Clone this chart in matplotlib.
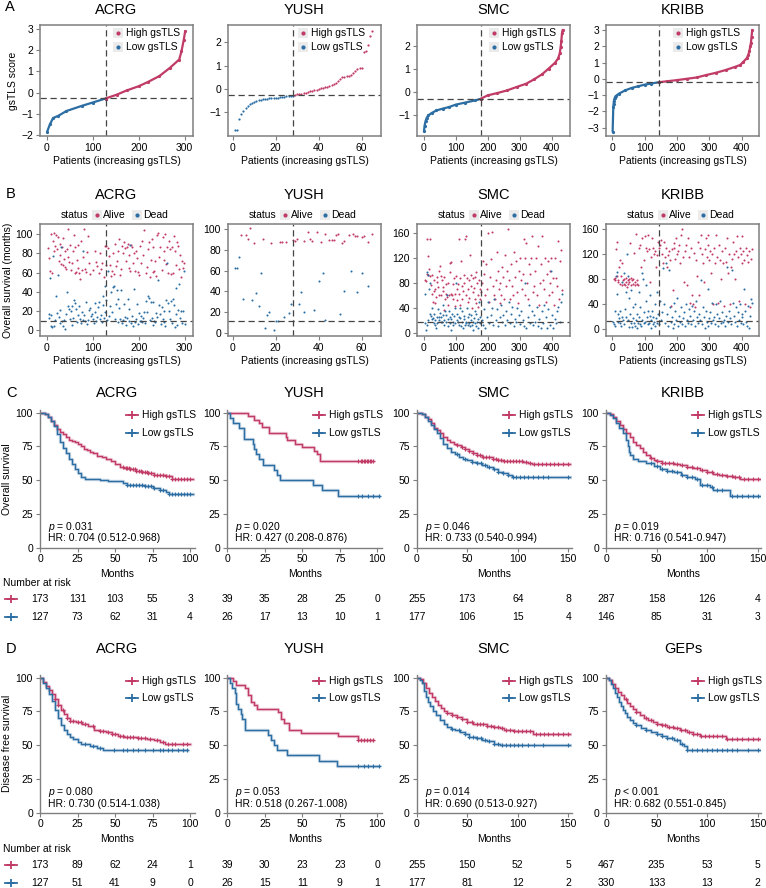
import numpy as np
import matplotlib
matplotlib.use("Agg")
import matplotlib.pyplot as plt
from matplotlib.lines import Line2D
from matplotlib.patches import Rectangle
from matplotlib import transforms

plt.rcParams["font.family"] = ["Liberation Sans", "DejaVu Sans"]
plt.rcParams["mathtext.fontset"] = "custom"
plt.rcParams["mathtext.it"] = "Liberation Sans:italic"
plt.rcParams["mathtext.rm"] = "Liberation Sans"

HIGH = "#C03B66"
LOW = "#2C6EA3"
GRID = "#7f7f7f"

# ---------------- panel A: sorted gsTLS score ----------------
acrg_a_idx = [1, 7, 14, 25, 43, 76, 100, 128, 152, 174, 200, 220, 245, 268, 288, 293, 298, 301]
acrg_a_score = [-1.85, -1.5, -1.2, -1.1, -0.87, -0.63, -0.47, -0.28, -0.1, 0.1, 0.3, 0.5, 0.78,
                1.17, 1.56, 1.95, 2.5, 2.9]
yush_a_idx = list(range(1, 66))
yush_a_score = [-1.78, -1.78, -1.28, -1.08, -0.93, -0.82, -0.72, -0.64, -0.61, -0.57, -0.53, -0.49,
                -0.47, -0.45, -0.43, -0.42, -0.41, -0.40, -0.39, -0.38, -0.37, -0.36, -0.34, -0.33,
                -0.32, -0.31, -0.30, -0.29, -0.26, -0.24, -0.22, -0.20, -0.18, -0.16, -0.14, -0.11,
                -0.09, -0.06, -0.03, 0.00, 0.02, 0.04, 0.07, 0.10, 0.13, 0.17, 0.22, 0.27, 0.35,
                0.42, 0.50, 0.53, 0.55, 0.57, 0.60, 0.70, 0.78, 0.85, 0.90, 0.90, 1.58, 1.62, 1.90,
                2.28, 2.50]
smc_a_idx = [1, 3, 6, 10, 15, 25, 40, 60, 80, 100, 130, 160, 178, 200, 230, 260, 290, 320, 345,
             370, 390, 410, 420, 425, 428, 430, 432, 434]
smc_a_score = [-1.69, -1.44, -1.25, -1.1, -1.0, -0.9, -0.79, -0.71, -0.64, -0.54, -0.45, -0.36,
               -0.29, -0.14, -0.04, 0.07, 0.22, 0.36, 0.55, 0.77, 1.01, 1.26, 1.45, 1.67, 1.96,
               2.22, 2.53, 2.68]
kribb_a_idx = [1, 3, 4, 5, 7, 10, 20, 40, 60, 80, 100, 120, 145, 170, 200, 230, 260, 290, 320,
               350, 380, 395, 405, 415, 420, 423, 426, 428, 430, 432]
kribb_a_score = [-3.25, -1.75, -1.55, -1.35, -1.2, -1.07, -0.92, -0.71, -0.56, -0.46, -0.36, -0.29,
                 -0.21, -0.15, -0.08, 0.0, 0.08, 0.23, 0.37, 0.54, 0.74, 0.85, 1.05, 1.26, 1.47,
                 1.68, 1.99, 2.2, 2.6, 3.0]

cut_idx = [128, 28, 178, 145]
cut_score = [-0.27, -0.27, -0.29, -0.22]
cut_os = [9.7, 11.3, 17.5, 12.7]

# ---------------- panel B: survival time by patient ----------------
acrg_alive = [(3, 85), (5, 75), (7, 62), (9, 100), (11, 59), (13, 93), (15, 101), (17, 82), (19, 88),
              (20, 99), (22, 84), (24, 97), (26, 72), (28, 78), (30, 90), (32, 69), (33, 86), (35, 96),
              (36, 68), (37, 74), (39, 82), (40, 66), (42, 64), (44, 84), (46, 76), (47, 105), (49, 71),
              (50, 89), (52, 63), (55, 70), (57, 82), (59, 99), (61, 87), (62, 60), (64, 61), (66, 73),
              (68, 65), (69, 89), (71, 59), (73, 53), (75, 93), (77, 63), (79, 76), (82, 105), (84, 64),
              (86, 61), (88, 81), (90, 98), (93, 70), (95, 58), (100, 63), (104, 82), (108, 71),
              (110, 67), (113, 60), (116, 80), (118, 64), (121, 70), (125, 55), (127, 88), (128, 68),
              (130, 88), (133, 85), (136, 77), (138, 68), (140, 56), (143, 62), (145, 80), (147, 58),
              (148, 90), (150, 67), (152, 72), (154, 82), (157, 95), (159, 57), (161, 64), (163, 88),
              (165, 80), (167, 92), (170, 85), (172, 72), (174, 87), (176, 90), (178, 78), (180, 65),
              (182, 62), (184, 89), (186, 86), (188, 70), (190, 80), (192, 62), (194, 82), (196, 75),
              (198, 61), (200, 57), (202, 88), (205, 70), (208, 93), (210, 78), (212, 104), (215, 60),
              (218, 66), (220, 84), (222, 92), (224, 55), (226, 73), (228, 95), (230, 61), (232, 87),
              (234, 62), (236, 72), (238, 56), (240, 99), (243, 101), (245, 76), (247, 87), (250, 63),
              (252, 97), (254, 73), (256, 82), (258, 100), (260, 69), (262, 86), (264, 60), (266, 93),
              (268, 84), (270, 58), (272, 87), (274, 59), (276, 98), (278, 82), (280, 68), (283, 92),
              (285, 88), (288, 64), (290, 78), (292, 55), (294, 72), (296, 65), (298, 70)]
acrg_dead = [(4, 13), (6, 17), (8, 54), (9, 5), (10, 16), (12, 3), (14, 77), (16, 4), (18, 11), (20, 36),
             (22, 18), (24, 57), (26, 14), (28, 21), (30, 8), (32, 86), (34, 10), (36, 5), (38, 11),
             (40, 1), (42, 17), (44, 40), (46, 25), (48, 22), (50, 12), (52, 20), (54, 25), (56, 6),
             (58, 13), (60, 32), (62, 28), (64, 22), (66, 9), (68, 16), (70, 25), (72, 12), (74, 8),
             (76, 19), (78, 82), (80, 11), (82, 16), (84, 10), (86, 29), (88, 7), (90, 11), (92, 21),
             (94, 23), (96, 15), (98, 17), (100, 12), (102, 8), (104, 28), (106, 19), (108, 10),
             (110, 14), (112, 24), (114, 29), (116, 12), (118, 16), (120, 9), (122, 36), (123, 26),
             (125, 13), (126, 46), (127, 19), (130, 32), (132, 11), (134, 62), (136, 15), (138, 25),
             (140, 40), (142, 19), (144, 45), (146, 46), (148, 12), (150, 27), (152, 42), (154, 9),
             (156, 33), (158, 23), (160, 12), (162, 42), (164, 8), (166, 11), (168, 27), (170, 14),
             (172, 6), (174, 13), (176, 33), (178, 10), (180, 22), (182, 89), (184, 8), (186, 15),
             (188, 5), (190, 43), (192, 9), (194, 12), (196, 27), (198, 7), (200, 18), (202, 10),
             (204, 10), (206, 15), (208, 9), (210, 13), (212, 19), (214, 8), (216, 30), (218, 19),
             (220, 36), (222, 34), (224, 11), (226, 29), (228, 13), (230, 29), (232, 6), (234, 10),
             (236, 9), (238, 18), (240, 14), (242, 52), (244, 26), (246, 17), (248, 7), (250, 24),
             (252, 12), (254, 20), (256, 9), (258, 4), (260, 31), (262, 70), (264, 28), (266, 20),
             (268, 12), (270, 30), (272, 8), (274, 33), (276, 26), (278, 3), (280, 17), (282, 44),
             (284, 6), (286, 21), (288, 48), (290, 13), (292, 20), (294, 8), (296, 20), (298, 62),
             (300, 7)]
yush_alive = [(4, 95), (6, 95), (7, 91), (8, 101), (10, 87), (14, 91), (18, 87), (22, 88), (23, 88),
              (25, 88), (28, 90), (29, 89), (30, 91), (33, 89), (35, 97), (36, 91), (37, 89), (39, 97),
              (41, 88), (43, 96), (45, 90), (46, 90), (47, 90), (48, 95), (49, 96), (51, 87), (52, 89),
              (54, 95), (56, 96), (57, 94), (58, 94), (60, 93), (61, 94), (63, 88), (65, 96)]
yush_dead = [(1, 63), (2, 63), (3, 73), (5, 33), (9, 32), (11, 38), (12, 26), (13, 58), (15, 5), (16, 17),
             (17, 20), (19, 3), (20, 11), (21, 11), (24, 15), (26, 19), (27, 28), (31, 28), (32, 39),
             (33, 20), (38, 22), (40, 50), (42, 58), (43, 12), (50, 18), (52, 40), (55, 60), (58, 39),
             (60, 58), (63, 45)]
smc_alive = [(5, 85), (7, 83), (9, 150), (11, 95), (13, 93), (15, 124), (17, 103), (19, 151), (21, 92),
             (23, 76), (25, 93), (27, 62), (29, 50), (31, 67), (33, 85), (35, 70), (37, 48), (39, 58),
             (41, 81), (43, 89), (45, 73), (47, 60), (49, 100), (51, 108), (53, 92), (55, 60), (57, 85),
             (59, 73), (61, 67), (63, 37), (65, 90), (67, 55), (69, 62), (71, 78), (73, 58), (75, 45),
             (77, 80), (79, 60), (81, 112), (83, 97), (85, 62), (87, 114), (89, 60), (91, 78), (93, 55),
             (95, 88), (97, 43), (99, 63), (101, 91), (103, 70), (105, 52), (107, 78), (109, 150),
             (111, 63), (113, 45), (115, 88), (117, 115), (119, 75), (121, 55), (123, 67), (125, 93),
             (127, 80), (129, 150), (131, 155), (133, 60), (135, 88), (137, 70), (139, 50), (141, 85),
             (143, 56), (145, 125), (147, 75), (149, 93), (151, 40), (153, 65), (155, 88), (157, 72),
             (159, 55), (161, 90), (163, 47), (165, 98), (167, 80), (169, 60), (171, 42), (173, 85),
             (175, 70), (177, 55), (180, 65), (183, 80), (186, 115), (189, 95), (192, 60), (195, 110),
             (198, 70), (201, 160), (204, 50), (207, 90), (210, 118), (213, 162), (216, 75), (219, 60),
             (222, 55), (225, 85), (228, 130), (231, 100), (234, 70), (237, 48), (240, 80), (243, 60),
             (246, 105), (249, 90), (252, 55), (255, 125), (258, 75), (261, 100), (264, 167), (267, 85),
             (270, 55), (273, 110), (276, 75), (279, 60), (282, 130), (285, 90), (288, 115), (291, 65),
             (294, 48), (297, 100), (300, 120), (303, 85), (306, 70), (309, 95), (312, 150), (315, 60),
             (318, 120), (321, 145), (324, 80), (327, 55), (330, 110), (333, 95), (336, 120), (339, 155),
             (342, 65), (345, 75), (348, 100), (351, 120), (354, 60), (357, 140), (360, 45), (363, 80),
             (366, 110), (369, 155), (372, 85), (375, 70), (378, 120), (381, 50), (384, 95), (387, 115),
             (390, 60), (393, 100), (396, 80), (399, 120), (402, 65), (405, 88), (408, 45), (411, 120),
             (414, 88), (417, 75), (420, 147), (423, 55), (426, 115), (429, 133), (432, 68)]
smc_dead = [(3, 63), (5, 15), (7, 5), (9, 12), (11, 98), (13, 93), (15, 20), (17, 70), (19, 80), (21, 30),
            (23, 27), (25, 40), (27, 22), (29, 23), (31, 16), (33, 30), (35, 13), (37, 20), (39, 8),
            (41, 26), (43, 15), (45, 38), (47, 26), (49, 20), (51, 31), (53, 18), (55, 25), (57, 17),
            (59, 45), (61, 28), (63, 20), (65, 12), (67, 35), (69, 28), (71, 18), (73, 60), (75, 22),
            (77, 10), (79, 35), (81, 25), (83, 15), (85, 22), (87, 5), (89, 30), (91, 18), (93, 12),
            (95, 27), (97, 40), (99, 16), (101, 80), (103, 20), (105, 30), (107, 17), (109, 25),
            (111, 12), (113, 40), (115, 24), (117, 10), (119, 35), (121, 18), (123, 7), (125, 27),
            (127, 22), (129, 12), (131, 15), (133, 18), (135, 40), (137, 25), (139, 13), (141, 30),
            (143, 16), (145, 10), (147, 20), (149, 28), (151, 12), (153, 18), (155, 5), (157, 23),
            (159, 35), (161, 15), (163, 10), (165, 30), (167, 18), (169, 8), (171, 22), (173, 50),
            (175, 15), (177, 25), (181, 20), (185, 12), (189, 38), (193, 8), (197, 25), (201, 50),
            (205, 15), (209, 28), (213, 40), (217, 12), (221, 55), (225, 20), (229, 38), (233, 10),
            (237, 25), (241, 45), (245, 18), (249, 28), (253, 12), (257, 35), (261, 20), (265, 50),
            (269, 15), (273, 30), (277, 42), (281, 10), (285, 22), (289, 18), (293, 40), (297, 28),
            (301, 14), (305, 35), (309, 20), (313, 10), (317, 80), (321, 8), (325, 25), (329, 45),
            (333, 15), (337, 35), (341, 12), (345, 28), (349, 18), (353, 42), (357, 10), (361, 22),
            (365, 8), (369, 35), (373, 15), (377, 45), (381, 25), (385, 8), (389, 38), (393, 12),
            (397, 100), (401, 28), (405, 8), (409, 22), (413, 15), (417, 35), (421, 42), (425, 18),
            (429, 50), (432, 63)]
kribb_alive = [(5, 80), (7, 82), (9, 78), (11, 128), (13, 85), (15, 140), (17, 75), (19, 78), (21, 100),
               (23, 72), (25, 110), (27, 85), (29, 70), (31, 105), (33, 78), (35, 72), (37, 80), (39, 70),
               (41, 75), (43, 82), (45, 68), (47, 78), (49, 72), (51, 80), (53, 75), (55, 137), (57, 70),
               (59, 82), (61, 78), (63, 73), (65, 80), (67, 122), (69, 75), (71, 70), (73, 152), (75, 78),
               (77, 72), (79, 70), (81, 130), (85, 135), (89, 100), (93, 145), (97, 110), (101, 148),
               (105, 130), (108, 125), (111, 150), (114, 128), (117, 75), (120, 115), (123, 145),
               (126, 130), (129, 120), (132, 125), (135, 100), (138, 118), (141, 140), (144, 130),
               (147, 135), (150, 142), (153, 120), (156, 105), (159, 140), (162, 115), (165, 130),
               (168, 100), (171, 118), (174, 125), (177, 110), (180, 38), (183, 128), (186, 62),
               (189, 130), (192, 138), (195, 112), (198, 145), (201, 120), (204, 125), (207, 135),
               (210, 105), (213, 150), (216, 160), (219, 115), (222, 75), (225, 125), (228, 135),
               (231, 70), (234, 145), (237, 115), (240, 42), (243, 130), (246, 55), (249, 40), (252, 122),
               (255, 35), (258, 110), (261, 85), (264, 140), (267, 55), (270, 130), (273, 150),
               (276, 120), (279, 105), (282, 75), (285, 128), (288, 145), (291, 115), (294, 135),
               (297, 150), (300, 110), (303, 125), (306, 90), (309, 120), (312, 40), (315, 130),
               (318, 105), (321, 150), (324, 115), (327, 42), (330, 135), (333, 110), (336, 80),
               (339, 125), (342, 105), (345, 38), (348, 130), (351, 108), (354, 145), (357, 90),
               (360, 120), (363, 40), (366, 100), (369, 112), (372, 140), (375, 120), (378, 80),
               (381, 125), (384, 148), (387, 115), (390, 45), (393, 130), (396, 120), (399, 105),
               (402, 148), (405, 125), (408, 110), (411, 40), (414, 130), (417, 118), (420, 108),
               (423, 125), (426, 35), (429, 112), (432, 128)]
kribb_dead = [(3, 12), (5, 8), (7, 30), (9, 5), (11, 85), (13, 57), (15, 92), (17, 12), (19, 25), (21, 18),
              (23, 30), (25, 10), (27, 5), (29, 75), (31, 20), (33, 15), (35, 90), (37, 8), (39, 32),
              (41, 20), (43, 60), (45, 120), (47, 85), (49, 15), (51, 3), (53, 50), (55, 25), (57, 10),
              (59, 62), (61, 3), (63, 35), (65, 18), (67, 10), (69, 5), (71, 40), (73, 15), (75, 2),
              (77, 25), (79, 10), (81, 60), (83, 20), (85, 8), (87, 35), (89, 5), (91, 90), (93, 15),
              (95, 80), (97, 28), (99, 10), (101, 12), (103, 45), (105, 70), (107, 20), (109, 8),
              (111, 30), (113, 10), (115, 55), (117, 22), (119, 2), (121, 15), (123, 30), (125, 8),
              (127, 20), (129, 12), (131, 40), (133, 5), (135, 18), (137, 60), (139, 10), (141, 25),
              (143, 8), (147, 45), (150, 15), (153, 28), (156, 98), (159, 40), (162, 10), (165, 105),
              (168, 25), (171, 5), (174, 95), (177, 35), (180, 12), (183, 20), (186, 2), (189, 42),
              (192, 8), (195, 30), (198, 15), (201, 50), (204, 5), (207, 22), (210, 12), (213, 35),
              (216, 8), (219, 18), (222, 28), (225, 5), (228, 40), (231, 15), (234, 10), (237, 33),
              (240, 22), (243, 8), (246, 38), (249, 15), (252, 30), (255, 5), (258, 45), (261, 20),
              (264, 10), (267, 25), (270, 15), (273, 78), (276, 8), (279, 35), (282, 20), (285, 2),
              (288, 30), (291, 12), (294, 65), (297, 5), (300, 18), (303, 28), (306, 10), (309, 42),
              (312, 15), (315, 20), (318, 8), (321, 40), (324, 25), (327, 5), (330, 18), (333, 45),
              (336, 10), (339, 28), (342, 12), (345, 15), (348, 5), (351, 22), (354, 100), (357, 12),
              (360, 30), (363, 18), (366, 8), (369, 95), (372, 42), (375, 22), (378, 12), (381, 35),
              (384, 5), (387, 28), (390, 15), (393, 40), (396, 10), (399, 25), (402, 20), (405, 8),
              (408, 65), (411, 30), (414, 12), (417, 5), (420, 38), (423, 2), (426, 22), (429, 48),
              (432, 42)]

# ---------------- panel C: overall survival KM ----------------
c_acrg_high_t = [0, 3, 5, 7, 9, 11, 13, 15, 17, 19, 21, 23, 25, 27, 29, 31, 33, 35, 38, 41, 44, 47, 50,
                 53, 56, 60, 64, 68, 72, 76, 80, 84, 88, 90, 102]
c_acrg_high_s = [100, 99, 97, 94, 91, 88, 86, 84, 82, 80, 79, 78, 77, 75, 73, 72, 71, 70, 68, 67, 66,
                 64, 62, 60, 59, 58, 57, 56, 55, 54, 54, 53, 51, 50.5, 50.5]
c_acrg_high_c = [55, 57, 58, 59, 60, 62, 63, 64, 66, 67, 68, 70, 71, 72, 74, 76, 78, 80, 82, 84, 86,
                 88, 90, 92, 94, 96, 98, 100]
c_acrg_low_t = [0, 3, 5, 7, 9, 11, 13, 15, 17, 19, 21, 23, 25, 27, 30, 35, 40, 45, 50, 55, 58, 62, 70,
                75, 80, 84, 86, 90, 102]
c_acrg_low_s = [100, 99, 97, 94, 90, 84, 78, 74, 70, 66, 62, 58, 55, 52, 51, 50.5, 50, 49, 49, 48, 46,
                46, 45.5, 44, 43, 41, 40, 40, 40]
c_acrg_low_c = [58, 60, 62, 64, 66, 68, 70, 72, 74, 76, 80, 82, 86, 88, 90, 92, 94, 96, 98, 100]

c_yush_high_t = [0, 14, 18, 21, 23, 28, 39, 40, 45, 50, 58, 60, 62, 97]
c_yush_high_s = [100, 97.4, 94.9, 92.3, 89.7, 84.6, 82.1, 79.5, 76.9, 74.4, 71.8, 69.2, 64.1, 64.1]
c_yush_high_c = [87, 89, 90, 91, 92, 93, 94, 95, 96, 97]
c_yush_low_t = [0, 2, 4, 8, 11, 17, 18, 19, 21, 24, 31, 33, 35, 57, 63, 74, 101]
c_yush_low_s = [100, 96.2, 92.3, 88.5, 80.8, 76.9, 73.1, 69.2, 65.4, 61.5, 57.7, 53.8, 50, 46.2, 42.3,
                38.5, 38.5]
c_yush_low_c = [87, 90, 94, 97, 101]

c_smc_high_t = [0, 5, 8, 11, 14, 17, 20, 23, 26, 30, 33, 37, 40, 44, 48, 52, 56, 60, 65, 70, 75, 80, 85,
                90, 95, 100, 105, 110, 114, 152]
c_smc_high_s = [100, 99, 97, 95, 92, 89, 87, 85, 82, 80, 78, 77, 76, 74.5, 73, 71.5, 70, 68.5, 67.5,
                67, 66, 65, 64.5, 64, 64, 64, 63.5, 63, 62, 62]
c_smc_high_c = [40, 45, 48, 52, 56, 60, 63, 66, 69, 72, 75, 78, 80, 83, 86, 89, 92, 95, 98, 101, 104,
                108, 112, 116, 120, 124, 128, 132, 136, 140, 145, 150]
c_smc_low_t = [0, 5, 8, 11, 14, 17, 20, 23, 26, 30, 34, 38, 42, 46, 50, 55, 60, 65, 70, 75, 80, 85, 90,
               94, 152]
c_smc_low_s = [100, 99, 97, 94, 91, 88, 85, 81, 77, 74, 71, 69, 67.5, 66, 65, 63.5, 62.5, 61, 60, 58,
               56, 55, 54, 52, 52]
c_smc_low_c = [40, 48, 55, 60, 64, 68, 72, 76, 80, 85, 90, 95, 98, 102, 106, 110, 115, 120, 125, 130, 150]

c_kribb_high_t = [0, 4, 7, 10, 14, 17, 20, 24, 27, 30, 34, 37, 40, 44, 47, 50, 55, 60, 67, 73, 80, 86,
                  93, 100, 106, 112, 119, 126, 133, 152]
c_kribb_high_s = [100, 99, 97, 94, 91, 88, 85, 82, 78.5, 76, 73.5, 71, 68.5, 66.5, 65, 64, 63, 62.5,
                  62, 61, 60, 59, 57.5, 56, 54.5, 54, 53, 52.5, 51, 51]
c_kribb_high_c = [45, 50, 55, 58, 62, 66, 70, 75, 80, 85, 90, 95, 100, 105, 110, 115, 120, 125, 128,
                  132, 136, 140, 145, 150]
c_kribb_low_t = [0, 4, 7, 10, 13, 17, 20, 22, 23, 24, 27, 32, 40, 47, 53, 60, 67, 74, 80, 88, 93, 103,
                 106, 119, 123, 152]
c_kribb_low_s = [100, 98, 96, 92, 89, 85, 80, 75, 71, 68.5, 65.5, 64, 62.5, 60.5, 58.5, 57, 56, 54,
                 52.5, 51, 46, 45, 43, 42.5, 38, 38]
c_kribb_low_c = [45, 50, 55, 60, 65, 70, 75, 80, 85, 90, 95, 100, 105, 110, 115, 125, 130, 135, 140,
                 145, 150]

# ---------------- panel D: disease free survival KM ----------------
d_acrg_high_t = [0, 2, 4, 6, 8, 10, 12, 14, 16, 18, 20, 24, 28, 32, 36, 40, 44, 48, 52, 56, 60, 65, 71,
                 76, 80, 83, 100]
d_acrg_high_s = [100, 97, 94, 91, 88, 84.5, 80, 76, 73, 70, 68, 67, 65.5, 64, 61.5, 60.5, 59.5, 58, 57,
                 56, 56, 55, 54.5, 53.5, 52, 51, 50.5]
d_acrg_high_c = [10, 12, 15, 18, 20, 22, 25, 27, 30, 35, 40, 42, 45, 48, 50, 53, 55, 58, 60, 62, 65, 67,
                 70, 73, 78, 82, 85, 88, 90, 95, 98]
d_acrg_low_t = [0, 2, 4, 6, 8, 10, 12, 14, 16, 18, 20, 22, 25, 27, 33, 38, 42, 98]
d_acrg_low_s = [100, 96, 92, 88, 83, 76, 70, 65, 61, 58, 56, 54.5, 52.5, 50.5, 49.5, 48, 46.5, 46.5]
d_acrg_low_c = [30, 35, 40, 49, 55, 58, 62, 65, 70, 75, 80, 82, 85, 88, 92, 95, 98]

d_yush_high_t = [0, 4, 6, 12, 14, 16, 18, 20, 34, 36, 38, 41, 49, 74, 87, 97]
d_yush_high_s = [100, 97.4, 94.9, 92.3, 87.2, 82.1, 79.5, 76.9, 74.4, 69.2, 66.7, 61.5, 59, 56.4, 53.8,
                 53.8]
d_yush_high_c = [87, 89, 91, 93, 95, 97]
d_yush_low_t = [0, 2, 3, 5, 6, 7, 9, 10, 12, 27, 29, 31, 33, 40, 61, 73, 101]
d_yush_low_s = [100, 96.2, 92.3, 88.5, 80.8, 76.9, 73.1, 69.2, 61.5, 57.7, 53.8, 50, 46.2, 42.3, 38.5,
                34.6, 34.6]
d_yush_low_c = [87, 91, 94, 97, 101]

d_smc_high_t = [0, 3, 6, 9, 12, 15, 18, 21, 24, 27, 30, 35, 40, 45, 50, 56, 63, 70, 76, 82, 86, 96, 115,
                152]
d_smc_high_s = [100, 99, 96, 92, 89, 86, 83, 80, 77.5, 75.5, 73.5, 72, 71, 69, 67, 66, 65.5, 64.5,
                63.5, 62.5, 61.5, 60.5, 58.5, 58.5]
d_smc_high_c = [30, 35, 40, 45, 50, 55, 60, 63, 66, 70, 73, 76, 80, 84, 88, 92, 96, 100, 104, 108, 112,
                118, 122, 126, 130, 135, 140, 145, 150]
d_smc_low_t = [0, 3, 5, 7, 9, 11, 13, 16, 19, 23, 27, 30, 34, 38, 43, 48, 52, 59, 65, 70, 76, 82, 152]
d_smc_low_s = [100, 98, 96, 90, 86, 82, 79, 75, 72, 68.5, 66, 63.5, 62, 61, 60, 58, 56, 55, 54, 53,
               51, 50, 50]
d_smc_low_c = [35, 42, 48, 52, 56, 60, 64, 68, 72, 76, 80, 84, 88, 92, 96, 100, 104, 110, 116, 125, 150]

d_geps_high_t = [0, 3, 6, 9, 12, 15, 18, 21, 24, 27, 30, 34, 38, 42, 46, 50, 55, 60, 67, 73, 80, 86, 93,
                 113, 119, 152]
d_geps_high_s = [100, 98.5, 95.5, 92.5, 89.5, 87, 84, 81.5, 79, 76.5, 74.5, 72, 70, 68.5, 67, 66, 65,
                 63.5, 62.5, 61, 60, 58.5, 57, 56.5, 54.5, 54.5]
d_geps_high_c = [20, 30, 40, 45, 50, 55, 58, 62, 66, 70, 74, 78, 82, 86, 90, 94, 98, 102, 106, 110, 115,
                 120, 125, 130, 135, 140, 145, 150]
d_geps_low_t = [0, 3, 5, 7, 9, 11, 13, 15, 17, 19, 21, 24, 27, 30, 35, 40, 45, 50, 55, 60, 67, 73, 77,
                80, 152]
d_geps_low_s = [100, 98, 95.5, 92, 88.5, 85.5, 82, 79, 76, 73.5, 71, 68.5, 66.5, 65, 63, 61.5, 60,
                58.5, 56.5, 55, 53.5, 51, 49.5, 46.5, 46.5]
d_geps_low_c = [30, 40, 50, 55, 60, 65, 70, 75, 80, 85, 90, 95, 100, 105, 110, 115, 120, 125, 130, 140,
                150]

# number at risk
c_risk_high = [[173, 131, 103, 55, 3], [39, 35, 28, 25, 0], [255, 173, 64, 8], [287, 158, 126, 4]]
c_risk_low = [[127, 73, 62, 31, 4], [26, 17, 13, 10, 1], [177, 106, 15, 4], [146, 85, 31, 3]]
d_risk_high = [[173, 89, 62, 24, 1], [39, 30, 23, 23, 0], [255, 150, 52, 5], [467, 235, 53, 5]]
d_risk_low = [[127, 51, 41, 9, 0], [26, 15, 11, 9, 1], [177, 81, 12, 2], [330, 133, 13, 2]]

c_pvals = ["$p$ = 0.031", "$p$ = 0.020", "$p$ = 0.046", "$p$ = 0.019"]
c_hrs = ["HR: 0.704 (0.512-0.968)", "HR: 0.427 (0.208-0.876)", "HR: 0.733 (0.540-0.994)",
         "HR: 0.716 (0.541-0.947)"]
d_pvals = ["$p$ = 0.080", "$p$ = 0.053", "$p$ = 0.014", "$p$ < 0.001"]
d_hrs = ["HR: 0.730 (0.514-1.038)", "HR: 0.518 (0.267-1.008)", "HR: 0.690 (0.513-0.927)",
         "HR: 0.682 (0.551-0.845)"]

abc_names = ["ACRG", "YUSH", "SMC", "KRIBB"]
d_names = ["ACRG", "YUSH", "SMC", "GEPs"]

# ---------------- layout ----------------
W, H = 766, 888
fig = plt.figure(figsize=(W / 100, H / 100), dpi=100)


def fx(x):
    return x / W


def fy(y):
    return 1 - y / H


def px_axes(l, t, w, h):
    return fig.add_axes([l / W, 1 - (t + h) / H, w / W, h / H])


def ftext(x, y, s, **kw):
    kw.setdefault("va", "center")
    kw.setdefault("fontsize", 7.5)
    fig.text(fx(x), fy(y), s, **kw)


def key_dot(x, y, color):
    fig.add_artist(Rectangle((fx(x - 5), fy(y + 5)), 10 / W, 10 / H, facecolor="#EBEBEB",
                             edgecolor="none", transform=fig.transFigure))
    fig.add_artist(Line2D([fx(x)], [fy(y)], marker="o", ms=2.0, color=color, lw=0,
                          transform=fig.transFigure))


def key_line(x, y, color):
    fig.add_artist(Line2D([fx(x - 6), fx(x + 6)], [fy(y), fy(y)], color=color, lw=1.3,
                          transform=fig.transFigure))
    fig.add_artist(Line2D([fx(x)], [fy(y)], marker="+", ms=6, mew=1.3, color=color, lw=0,
                          transform=fig.transFigure))


def box_style(ax):
    for sp in ax.spines.values():
        sp.set_color(GRID)
        sp.set_linewidth(1.1)
    ax.tick_params(labelsize=7.5, length=3, width=0.8, color=GRID, pad=2)


def km_style(ax):
    ax.spines["top"].set_visible(False)
    ax.spines["right"].set_visible(False)
    for k in ["left", "bottom"]:
        ax.spines[k].set_color(GRID)
        ax.spines[k].set_linewidth(1.0)
    ax.tick_params(labelsize=7.5, length=3, width=0.8, color=GRID, pad=2)


def surv_at(t, s, times):
    t = np.asarray(t)
    s = np.asarray(s)
    i = np.searchsorted(t, times, side="right") - 1
    return s[i]


col_left = [40, 228, 417, 606]
a_xlim = [(-14.5, 318), (-2.2, 69), (-20.7, 457), (-19.5, 453)]
a_ylim = [(-2.05, 3.19), (-2.02, 2.74), (-1.89, 2.89), (-3.52, 3.31)]
a_xticks = [[0, 100, 200, 300], [0, 20, 40, 60], [0, 100, 200, 300, 400], [0, 100, 200, 300, 400]]
a_yticks = [[-2, -1, 0, 1, 2, 3], [-1, 0, 1, 2], [-1, 0, 1, 2], [-3, -2, -1, 0, 1, 2, 3]]
a_leg_off = [78, 75, 77, 72]
a_data = [(acrg_a_idx, acrg_a_score), (yush_a_idx, yush_a_score), (smc_a_idx, smc_a_score),
          (kribb_a_idx, kribb_a_score)]

b_ylim = [(-5.9, 110.4), (-3.2, 105.2), (-5.3, 174.9), (-10.6, 167.9)]
b_yticks = [[0, 20, 40, 60, 80, 100], [0, 20, 40, 60, 80, 100], [0, 40, 80, 120, 160],
            [0, 40, 80, 120, 160]]
b_data = [(acrg_alive, acrg_dead), (yush_alive, yush_dead), (smc_alive, smc_dead),
          (kribb_alive, kribb_dead)]

# ---- panel A ----
ftext(5, 7, "A", fontsize=10.5)
for i in range(4):
    ax = px_axes(col_left[i], 25, 153, 111)
    idx = np.array(a_data[i][0])
    sc = np.array(a_data[i][1])
    low = idx <= cut_idx[i]
    high = idx >= cut_idx[i]
    if i == 1:
        ax.scatter(idx[low], sc[low], s=2.5, color=LOW, lw=0)
        ax.scatter(idx[~low], sc[~low], s=2.5, color=HIGH, lw=0)
    else:
        ax.plot(idx[low], sc[low], color=LOW, lw=1.6, marker="o", ms=1.3, solid_capstyle="round")
        ax.plot(idx[high], sc[high], color=HIGH, lw=1.6, marker="o", ms=1.3, solid_capstyle="round")
    ax.axvline(cut_idx[i], color="#444444", lw=0.9, ls=(0, (5, 3)))
    ax.axhline(cut_score[i], color="#444444", lw=0.9, ls=(0, (5, 3)))
    ax.set_xlim(a_xlim[i])
    ax.set_ylim(a_ylim[i])
    ax.set_xticks(a_xticks[i])
    ax.set_yticks(a_yticks[i])
    ax.set_yticklabels([str(v).replace("-", "\u2212") for v in a_yticks[i]])
    box_style(ax)
    ax.set_xlabel("Patients (increasing gsTLS)", fontsize=7.5, labelpad=2)
    if i == 0:
        ax.set_ylabel("gsTLS score", fontsize=7.5, labelpad=2)
    ftext(col_left[i] + 76.5, 10, abc_names[i], fontsize=10.5, ha="center")
    lx = col_left[i] + a_leg_off[i]
    key_dot(lx, 33, HIGH)
    ftext(lx + 8, 33, "High gsTLS")
    key_dot(lx, 47, LOW)
    ftext(lx + 8, 47, "Low gsTLS")

# ---- panel B ----
ftext(6, 194, "B", fontsize=10.5)
for i in range(4):
    ax = px_axes(col_left[i], 224, 153, 112)
    alive = np.array(b_data[i][0])
    dead = np.array(b_data[i][1])
    ax.scatter(alive[:, 0], alive[:, 1], s=2.2, color=HIGH, lw=0)
    ax.scatter(dead[:, 0], dead[:, 1], s=2.2, color=LOW, lw=0)
    ax.axvline(cut_idx[i], color="#444444", lw=0.9, ls=(0, (5, 3)))
    ax.axhline(cut_os[i], color="#444444", lw=0.9, ls=(0, (5, 3)))
    ax.set_xlim(a_xlim[i])
    ax.set_ylim(b_ylim[i])
    ax.set_xticks(a_xticks[i])
    ax.set_yticks(b_yticks[i])
    box_style(ax)
    ax.set_xlabel("Patients (increasing gsTLS)", fontsize=7.5, labelpad=2)
    if i == 0:
        ax.set_ylabel("Overall survival (months)", fontsize=7.5, labelpad=2)
    ftext(col_left[i] + 76.5, 195, abc_names[i], fontsize=10.5, ha="center")
    l0 = col_left[i]
    ftext(l0 + 21, 215, "status")
    key_dot(l0 + 57, 215, HIGH)
    ftext(l0 + 63, 215, "Alive")
    key_dot(l0 + 97, 215, LOW)
    ftext(l0 + 103, 215, "Dead")

# ---- panels C and D ----
km_left = [40, 227.3, 416.7, 606]
km_c = [(c_acrg_high_t, c_acrg_high_s, c_acrg_high_c, c_acrg_low_t, c_acrg_low_s, c_acrg_low_c),
        (c_yush_high_t, c_yush_high_s, c_yush_high_c, c_yush_low_t, c_yush_low_s, c_yush_low_c),
        (c_smc_high_t, c_smc_high_s, c_smc_high_c, c_smc_low_t, c_smc_low_s, c_smc_low_c),
        (c_kribb_high_t, c_kribb_high_s, c_kribb_high_c, c_kribb_low_t, c_kribb_low_s, c_kribb_low_c)]
km_d = [(d_acrg_high_t, d_acrg_high_s, d_acrg_high_c, d_acrg_low_t, d_acrg_low_s, d_acrg_low_c),
        (d_yush_high_t, d_yush_high_s, d_yush_high_c, d_yush_low_t, d_yush_low_s, d_yush_low_c),
        (d_smc_high_t, d_smc_high_s, d_smc_high_c, d_smc_low_t, d_smc_low_s, d_smc_low_c),
        (d_geps_high_t, d_geps_high_s, d_geps_high_c, d_geps_low_t, d_geps_low_s, d_geps_low_c)]

rows = [
    dict(letter="C", top=410, title_y=393, curves=km_c, names=abc_names, pv=c_pvals, hr=c_hrs,
         rh=c_risk_high, rl=c_risk_low, ylabel="Overall survival", leg=(415, 433), ptxt=(527, 538),
         nar=583, r1=599, r2=617),
    dict(letter="D", top=675, title_y=649, curves=km_d, names=d_names, pv=d_pvals, hr=d_hrs,
         rh=d_risk_high, rl=d_risk_low, ylabel="Disease free survival", leg=(681, 698),
         ptxt=(792, 804), nar=849, r1=865, r2=883),
]

for row in rows:
    ftext(6, row["title_y"], row["letter"], fontsize=10.5)
    ftext(3, row["nar"], "Number at risk")
    key_line(11, row["r1"], HIGH)
    key_line(11, row["r2"], LOW)
    for i in range(4):
        ax = px_axes(km_left[i], row["top"], 155, 137.5)
        ht, hs, hc, lt, ls_, lc = row["curves"][i]
        # faint halo under each curve, as in the source figure
        ax.step(ht, hs, where="post", color=HIGH, lw=2.4, alpha=0.25)
        ax.step(lt, ls_, where="post", color=LOW, lw=2.4, alpha=0.25)
        ax.step(ht, hs, where="post", color=HIGH, lw=1.0)
        ax.step(lt, ls_, where="post", color=LOW, lw=1.0)
        ax.plot(hc, surv_at(ht, hs, hc), "+", color=HIGH, ms=3.5, mew=0.8)
        ax.plot(lc, surv_at(lt, ls_, lc), "+", color=LOW, ms=3.5, mew=0.8)
        if i < 2:
            ax.set_xlim(0, 103.3)
            times = [0, 25, 50, 75, 100]
        else:
            ax.set_xlim(0, 153.3)
            times = [0, 50, 100, 150]
        ax.set_ylim(0, 102)
        ax.set_xticks(times)
        ax.set_yticks([0, 25, 50, 75, 100])
        km_style(ax)
        ax.set_xlabel("Months", fontsize=7.5, labelpad=3)
        if i == 0:
            ax.set_ylabel(row["ylabel"], fontsize=7.5, labelpad=3)
        ftext(km_left[i] + 77, row["title_y"], row["names"][i], fontsize=10.5, ha="center")
        kx = km_left[i] + 92
        key_line(kx, row["leg"][0], HIGH)
        ftext(kx + 10, row["leg"][0], "High gsTLS")
        key_line(kx, row["leg"][1], LOW)
        ftext(kx + 10, row["leg"][1], "Low gsTLS")
        ftext(km_left[i] + 8, row["ptxt"][0], row["pv"][i])
        ftext(km_left[i] + 8, row["ptxt"][1], row["hr"][i])
        tr = transforms.blended_transform_factory(ax.transData, fig.transFigure)
        for tt, n1, n2 in zip(times, row["rh"][i], row["rl"][i]):
            ax.text(tt, fy(row["r1"]), str(n1), transform=tr, ha="center", va="center",
                    fontsize=7.5)
            ax.text(tt, fy(row["r2"]), str(n2), transform=tr, ha="center", va="center",
                    fontsize=7.5)

fig.savefig("out.png", dpi=100)
